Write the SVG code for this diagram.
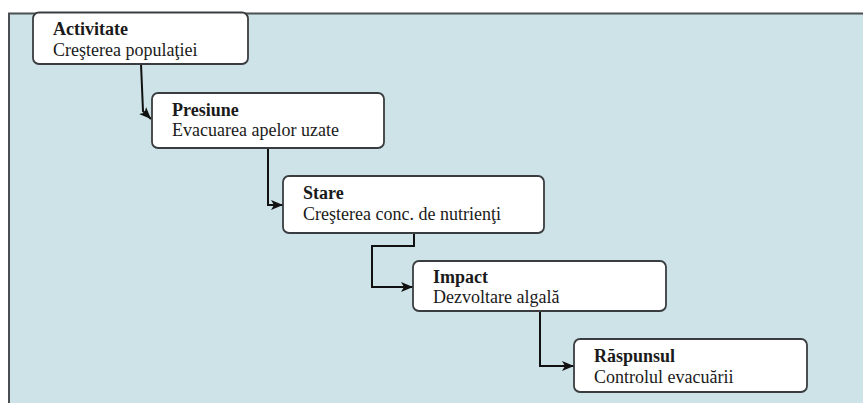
<svg xmlns="http://www.w3.org/2000/svg" width="863" height="403" viewBox="0 0 863 403">
<defs>
<style>
.panel{fill:#cde3e7;stroke:#4a4f52;stroke-width:2}
.box{fill:#ffffff;stroke:#3a3d40;stroke-width:1.8}
text{font-family:'Liberation Serif','Times New Roman',Tinos,'DejaVu Serif',serif;font-size:18px;fill:#1a1a1a}
.b{font-weight:bold}
.c{fill:none;stroke:#111;stroke-width:2}
</style>
<marker id="ah" viewBox="0 0 12 10" refX="12" refY="5" markerWidth="12" markerHeight="10" markerUnits="userSpaceOnUse" orient="auto">
<path d="M0,0 L12,5 L0,10 L3,5 Z" fill="#111"/>
</marker>
</defs>
<rect x="0" y="0" width="863" height="403" fill="#ffffff"/>
<rect class="panel" x="9" y="13.5" width="870" height="400"/>
<g id="connectors">
<path class="c" d="M141,64 L143,111 L151,119" marker-end="url(#ah)"/>
<path class="c" d="M268,148 L268,205 L283,205" marker-end="url(#ah)"/>
<path class="c" d="M414,233 L414,246 L372,246 L372,287 L413,287" marker-end="url(#ah)"/>
<path class="c" d="M540,311 L540,366 L574,366" marker-end="url(#ah)"/>
</g>
<g id="activitate">
<rect class="box" x="33" y="12.5" width="215" height="51.5" rx="6"/>
<text class="b" x="53" y="35">Activitate</text>
<text x="53" y="56">Creşterea populaţiei</text>
</g>
<g id="presiune">
<rect class="box" x="152" y="93" width="232" height="55" rx="6"/>
<text class="b" x="172" y="116">Presiune</text>
<text x="172" y="136">Evacuarea apelor uzate</text>
</g>
<g id="stare">
<rect class="box" x="283" y="176" width="261" height="57" rx="6"/>
<text class="b" x="303" y="199">Stare</text>
<text x="303" y="220">Creşterea conc. de nutrienţi</text>
</g>
<g id="impact">
<rect class="box" x="413" y="261" width="253" height="50" rx="6"/>
<text class="b" x="433" y="283">Impact</text>
<text x="433" y="303">Dezvoltare algală</text>
</g>
<g id="raspunsul">
<rect class="box" x="574" y="339" width="233" height="53" rx="6"/>
<text class="b" x="594" y="362">Răspunsul</text>
<text x="594" y="383">Controlul evacuării</text>
</g>
</svg>
